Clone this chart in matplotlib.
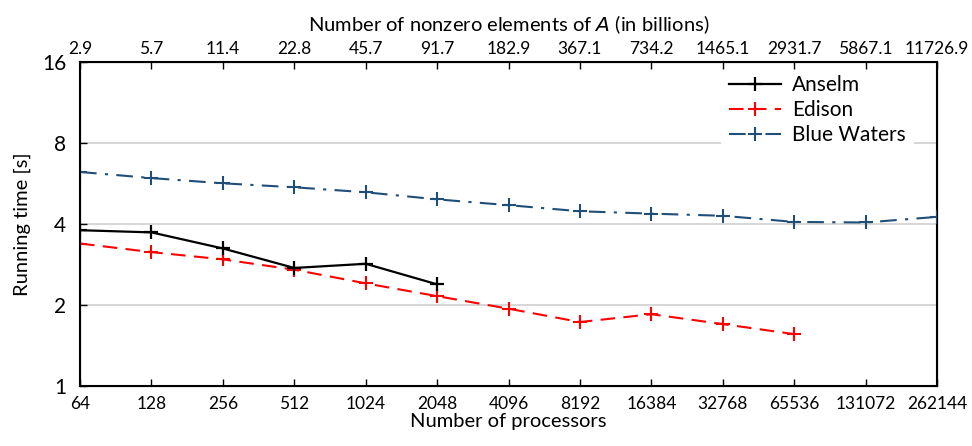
import matplotlib
matplotlib.use("Agg")
import matplotlib.pyplot as plt
from matplotlib.ticker import FixedLocator, NullLocator

plt.rcParams['font.family'] = ['Lato', 'DejaVu Sans']

procs = [64, 128, 256, 512, 1024, 2048, 4096, 8192, 16384, 32768, 65536, 131072, 262144]
nnz_labels = ["2.9", "5.7", "11.4", "22.8", "45.7", "91.7", "182.9", "367.1",
              "734.2", "1465.1", "2931.7", "5867.1", "11726.9"]

anselm = [3.80, 3.73, 3.25, 2.75, 2.85, 2.39]
edison = [3.39, 3.15, 2.96, 2.71, 2.41, 2.16, 1.94, 1.73, 1.85, 1.70, 1.56]
blue_waters = [6.26, 5.94, 5.68, 5.49, 5.26, 4.95, 4.71, 4.47, 4.38, 4.30, 4.08, 4.06, 4.26]

y_ticks = [1, 2, 4, 8, 16]

fig = plt.figure(figsize=(9.72, 4.46), dpi=100)
ax = fig.add_axes([0.0823, 0.1345, 0.8817, 0.7255])

ax.plot(procs[:len(anselm)], anselm, color='black', lw=1.6, marker='+', ms=10, mew=1.6,
        label='Anselm', zorder=4)
ax.plot(procs[:len(edison)], edison, color='red', lw=1.5, marker='+', ms=10, mew=1.5,
        dashes=(7, 4), label='Edison', zorder=3)
ax.plot(procs, blue_waters, color='#1f4e79', lw=1.5, marker='+', ms=10, mew=1.5,
        dashes=(8, 4, 1.5, 4), label='Blue Waters', zorder=3)

ax.set_xscale('log', base=2)
ax.set_yscale('log', base=2)
ax.set_xlim(procs[0], procs[-1])
ax.set_ylim(1, 16)

ax.xaxis.set_major_locator(FixedLocator(procs))
ax.xaxis.set_minor_locator(NullLocator())
ax.set_xticklabels([str(p) for p in procs], fontsize=12.5)
ax.yaxis.set_major_locator(FixedLocator(y_ticks))
ax.yaxis.set_minor_locator(NullLocator())
ax.set_yticklabels([str(v) for v in y_ticks], fontsize=15)

ax.tick_params(axis='both', direction='in', length=5, width=1, pad=7)
ax.tick_params(axis='y', pad=10)
ax.grid(axis='y', color='#d0d0d0', lw=1.2)
ax.set_axisbelow(True)
for s in ax.spines.values():
    s.set_linewidth(1.5)

ax.set_xlabel('Number of processors', fontsize=14.5, labelpad=1)
ax.set_ylabel('Running time [s]', fontsize=14.5, labelpad=8)

top = ax.twiny()
top.set_xscale('log', base=2)
top.set_xlim(ax.get_xlim())
top.xaxis.set_major_locator(FixedLocator(procs))
top.xaxis.set_minor_locator(NullLocator())
top.set_xticklabels(nnz_labels, fontsize=12.5)
top.tick_params(axis='x', direction='in', length=5, width=1, pad=4)
top.set_xlabel('Number of nonzero elements of $\\mathit{A}$ (in billions)', fontsize=14.5, labelpad=7)

leg = ax.legend(loc='upper right', bbox_to_anchor=(0.978, 1.0), fontsize=15, frameon=True,
                fancybox=False, edgecolor='none', facecolor='white', framealpha=1,
                handlelength=2.5, borderaxespad=0.2, labelspacing=0.25, handletextpad=0.5)

fig.savefig('out.png', dpi=100)
